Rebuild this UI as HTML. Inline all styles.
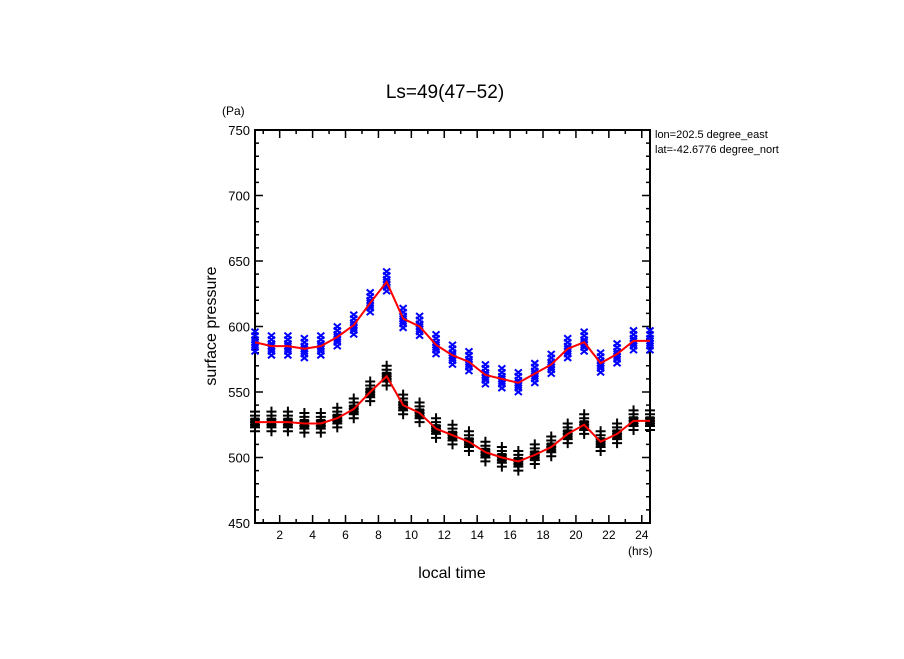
<!DOCTYPE html>
<html><head><meta charset="utf-8"><style>
body{margin:0;background:#fff;}
svg text{font-family:"Liberation Sans",sans-serif;}
</style></head><body>
<svg id="c" width="904" height="654" xmlns="http://www.w3.org/2000/svg">
<defs><clipPath id="rc"><rect x="650" y="120" width="129" height="40"/></clipPath></defs>
<text x="445" y="98" font-size="19" text-anchor="middle">Ls=49(47−52)</text>
<text x="222" y="115" font-size="12">(Pa)</text>
<text x="628" y="555" font-size="12">(hrs)</text>
<text x="452" y="578" font-size="16" text-anchor="middle">local time</text>
<text transform="translate(216,326) rotate(-90)" font-size="16" text-anchor="middle">surface pressure</text>
<g clip-path="url(#rc)">
<text x="655" y="138" font-size="11">lon=202.5 degree_east</text>
<text x="655" y="153" font-size="11">lat=-42.6776 degree_north</text>
</g>
<g id="axes"></g><g id="marks"></g>
</svg>
<script>
const hours=[0.5,1.5,2.5,3.5,4.5,5.5,6.5,7.5,8.5,9.5,10.5,11.5,12.5,13.5,14.5,15.5,16.5,17.5,18.5,19.5,20.5,21.5,22.5,23.5,24.5];
const upperMean=[588,585,585,583,585,592,601,618,634,606,600,586,578,573,563,560,557,564,571,583,588,572,579,589,589];
const lowerMean=[527,527,527,526,526,530,537,550,562,540,534,522,517,512,504,500,497,502,508,518,525,512,518,528,528];
const spread=[-7,-4,-2,0,2,5,8];
const xTicks=[2,4,6,8,10,12,14,16,18,20,22,24];
const yTicks=[450,500,550,600,650,700,750];
const X0=255,X1=650,Y0=523,Y1=130;
const sx=h=>X0+(h-0.5)/24*(X1-X0);
const sy=v=>Y0-(v-450)/300*(Y0-Y1);
const NS="http://www.w3.org/2000/svg";
function mk(t,a,p){const e=document.createElementNS(NS,t);for(const k in a)e.setAttribute(k,a[k]);p.appendChild(e);return e;}
const ax=document.getElementById('axes'),mg=document.getElementById('marks');
const fr=mk('rect',{x:X0,y:Y1,width:X1-X0,height:Y0-Y1,fill:'none',stroke:'#000','stroke-width':2},ax);


for(let h=1;h<=24;h++){const x=sx(h),L=h%2==0?8:4;
 const t=mk('path',{d:`M${x},${Y0}v${-L}M${x},${Y1}v${L}`,stroke:'#000','stroke-width':1.5},ax);
 
 }
xTicks.forEach(h=>{const t=mk('text',{x:sx(h),y:539,'font-size':12,'text-anchor':'middle'},ax);t.textContent=h;
 
 });
for(let v=450;v<=750;v+=10){const y=sy(v),L=v%50==0?8:4;
 const t=mk('path',{d:`M${X0},${y}h${L}M${X1},${y}h${-L}`,stroke:'#000','stroke-width':1.5},ax);
 
 }
yTicks.forEach(v=>{const t=mk('text',{x:250,y:sy(v)+5,'font-size':13,'text-anchor':'end'},ax);t.textContent=v;
 
 });
hours.forEach((h,i)=>{const x=sx(h);
 spread.forEach(d=>{let y=sy(upperMean[i]+d);
  const m=mk('path',{d:`M${x-3.5},${y-3}l7,6M${x+3.5},${y-3}l-7,6`,stroke:'#0000ff','stroke-width':2},mg);
  
  
  y=sy(lowerMean[i]+d);
  const p=mk('path',{d:`M${x-5},${y}h10M${x},${y-5}v10`,stroke:'#000','stroke-width':2},mg);
  
  });
 const s=mk('rect',{x:x-4.5,y:sy(lowerMean[i])-4.5,width:9,height:9,fill:'#000'},mg);
 
 });
[upperMean,lowerMean].forEach((arr,k)=>{
 const l=mk('polyline',{points:arr.map((v,i)=>sx(hours[i])+','+sy(v)).join(' '),fill:'none',stroke:'#ff0000','stroke-width':2},mg);
 
 });
</script>
</body></html>
